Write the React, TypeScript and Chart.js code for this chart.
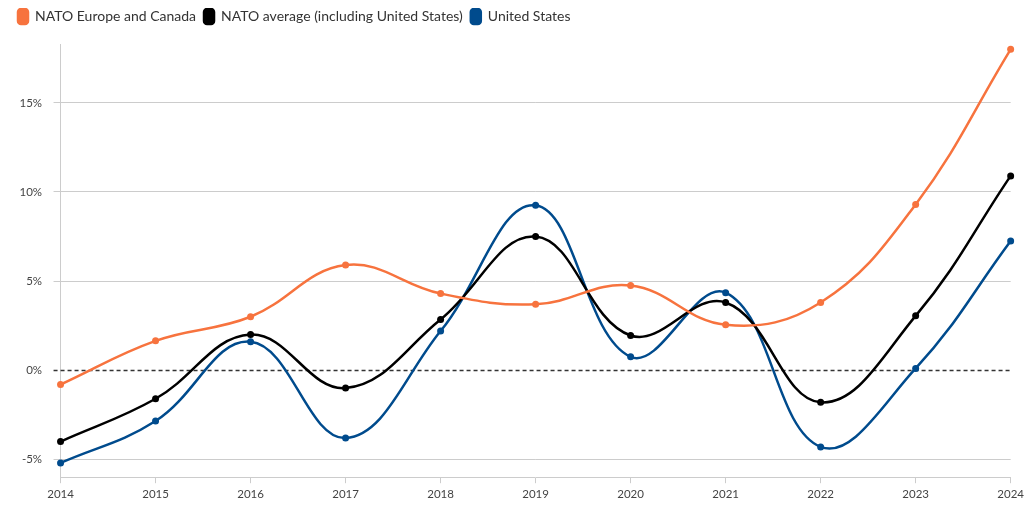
import React, { useEffect, useRef } from "react";
import { Chart, registerables } from "chart.js";

Chart.register(...registerables);

const years = ["2014", "2015", "2016", "2017", "2018", "2019", "2020", "2021", "2022", "2023", "2024"];
const europeCanada = [-0.8, 1.65, 3.0, 5.9, 4.3, 3.7, 4.75, 2.55, 3.8, 9.3, 18.0];
const natoAverage = [-4.0, -1.6, 2.0, -1.0, 2.85, 7.5, 1.95, 3.8, -1.8, 3.05, 10.9];
const unitedStates = [-5.2, -2.85, 1.6, -3.8, 2.2, 9.25, 0.75, 4.35, -4.3, 0.1, 7.25];
const yTicks = [-5, 0, 5, 10, 15];

const FONT = "Lato, 'Open Sans', sans-serif";

const zeroLine = {
  id: "zeroLine",
  beforeDatasetsDraw(chart: any) {
    const { ctx, chartArea, scales } = chart;
    const y = Math.round(scales.y.getPixelForValue(0)) + 0.5;
    ctx.save();
    ctx.strokeStyle = "#333";
    ctx.lineWidth = 1.3;
    ctx.setLineDash([4, 3]);
    ctx.beginPath();
    ctx.moveTo(chartArea.left - 7, y);
    ctx.lineTo(chartArea.right, y);
    ctx.stroke();
    ctx.restore();
  },
};

const legendMargin = {
  id: "legendMargin",
  beforeInit(chart: any) {
    const legend = chart.legend;
    if (!legend) return;
    const fit = legend.fit;
    legend.fit = function () {
      fit.call(legend);
      legend.height += 3;
    };
    const draw = legend.draw;
    legend.draw = function () {
      const ctx = chart.ctx;
      ctx.save();
      ctx.translate(2, -7);
      draw.call(legend);
      ctx.restore();
    };
  },
};

export default function App() {
  const ref = useRef<HTMLCanvasElement>(null);
  useEffect(() => {
    if (!ref.current) return;
    const mk = (label: string, data: number[], color: string) => ({
      label,
      data,
      borderColor: color,
      backgroundColor: color,
      borderWidth: 2.5,
      pointRadius: 3.5,
      pointHoverRadius: 4,
      pointBorderWidth: 0,
      tension: 0.4,
    });
    const chart = new Chart(ref.current, {
      type: "line",
      data: {
        labels: years,
        datasets: [
          mk("NATO Europe and Canada", europeCanada, "#F7733E"),
          mk("NATO average (including United States)", natoAverage, "#000000"),
          mk("United States", unitedStates, "#004B8D"),
        ],
      },
      options: {
        animation: false,
        responsive: true,
        maintainAspectRatio: false,
        layout: { padding: { left: 0, right: 6, top: 0, bottom: 0 } },
        plugins: {
          legend: {
            position: "top",
            align: "start",
            labels: {
              boxWidth: 10,
              boxHeight: 15,
              useBorderRadius: true,
              borderRadius: 3,
              padding: 8,
              color: "#333",
              font: { family: FONT, size: 14 },
            },
          },
          tooltip: { enabled: false },
        },
        scales: {
          x: {
            grid: {
              drawOnChartArea: false,
              drawTicks: true,
              tickLength: 6,
              color: "#cccccc",
            },
            border: { color: "#cccccc", width: 1 },
            ticks: {
              color: "#444",
              font: { family: FONT, size: 11.5 },
              maxRotation: 0,
              autoSkip: false,
              padding: 4,
            },
          },
          y: {
            min: -6,
            max: 18.3,
            afterBuildTicks: (axis: any) => {
              axis.ticks = yTicks.map((v) => ({ value: v }));
            },
            grid: {
              color: (ctx: any) => (ctx.tick && ctx.tick.value === 0 ? "rgba(0,0,0,0)" : "#cccccc"),
              tickLength: 7,
            },
            border: { color: "#cccccc", width: 1 },
            ticks: {
              color: "#444",
              font: { family: FONT, size: 11.5 },
              padding: 11.5,
              callback: (v: any) => `${v}%`,
            },
          },
        },
      },
      plugins: [zeroLine, legendMargin],
    });
    return () => chart.destroy();
  }, []);
  return (
    <div style={{ width: "1020px", height: "497px", position: "relative" }}>
      <canvas ref={ref} />
    </div>
  );
}
